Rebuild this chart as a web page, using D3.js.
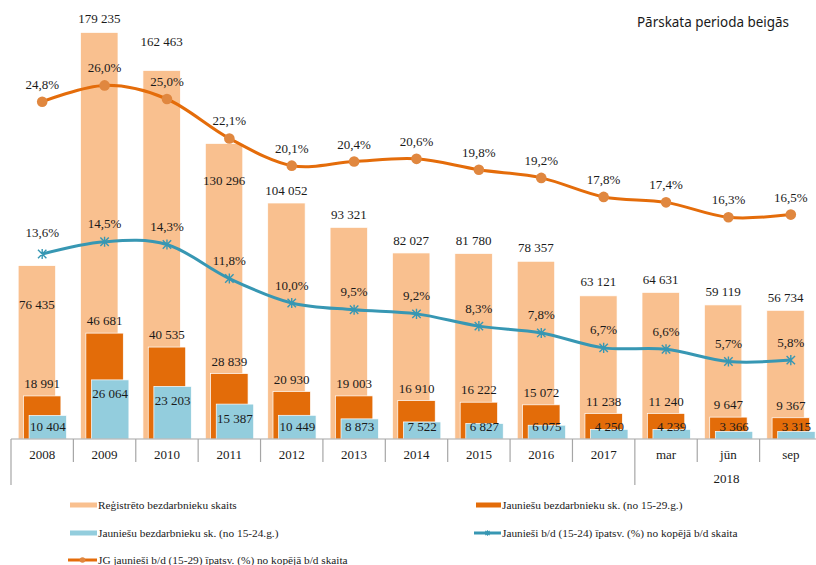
<!DOCTYPE html>
<html>
<head>
<meta charset="UTF-8">
<title>Bezdarbnieki</title>
<script src="https://d3js.org/d3.v7.min.js"></script>
<style>
  body { margin: 0; background: #fff; }
  svg text { font-family: "Liberation Serif", "Times New Roman", serif; fill: #1a1a1a; }
</style>
</head>
<body>
<svg id="viz" width="816" height="565"></svg>
<script>
// data
var categories = ["2008", "2009", "2010", "2011", "2012", "2013", "2014", "2015", "2016", "2017", "mar", "jūn", "sep"];
var registered = [76435, 179235, 162463, 130296, 104052, 93321, 82027, 81780, 78357, 63121, 64631, 59119, 56734];
var youth1529 = [18991, 46681, 40535, 28839, 20930, 19003, 16910, 16222, 15072, 11238, 11240, 9647, 9367];
var youth1524 = [10404, 26064, 23203, 15387, 10449, 8873, 7522, 6827, 6075, 4250, 4239, 3366, 3315];
var share1524 = [13.6, 14.5, 14.3, 11.8, 10.0, 9.5, 9.2, 8.3, 7.8, 6.7, 6.6, 5.7, 5.8];
var share1529 = [24.8, 26.0, 25.0, 22.1, 20.1, 20.4, 20.6, 19.8, 19.2, 17.8, 17.4, 16.3, 16.5];
var groupLabel = "2018"; // spans the last three months

// manual label nudges (px from bar top), like the moved labels in the original
var registeredLabelDy = [39, -14, -29, 37, -13, -13, -13, -13, -14, -14, -13, -13, -13];

var colors = {
  registered: "#F9C08F",
  y1529: "#E36C09",
  y1524: "#93CDDD",
  line1524: "#3797B3",
  line1529: "#E46C0A",
  dot1529: "#E0873F",
  axis: "#A6A6A6"
};

var loc = d3.formatLocale({decimal: ",", thousands: " ", grouping: [3], currency: ["", ""]});
var fmtNum = loc.format(",d");
var fmtPct = function(v) { return loc.format(".1f")(v) + "%"; };

var svg = d3.select("#viz");
var baseY = 439;

var x = d3.scaleBand().domain(categories).range([11, 822]).padding(0);
var step = x.step();
var barW = step * 0.6;
var cx = function(i) { return x(categories[i]) + step / 2; };

var y = d3.scaleLinear().domain([0, 190000]).range([baseY, baseY - 190000 * 0.002268]);
var y2 = d3.scaleLinear().domain([0, 30]).range([baseY, baseY - 30 * 13.6]);

// bars
function drawBars(values, color, offset, cls) {
  svg.append("g").attr("class", cls)
    .selectAll("rect").data(values).enter().append("rect")
    .attr("x", function(d, i) { return cx(i) + offset * step - barW / 2; })
    .attr("y", function(d) { return y(d); })
    .attr("width", barW)
    .attr("height", function(d) { return baseY - y(d); })
    .attr("fill", color)
    .attr("stroke", "#fff")
    .attr("stroke-width", 0.7);
}
drawBars(registered, colors.registered, -0.085, "reg");
drawBars(youth1529, colors.y1529, 0, "y29");
drawBars(youth1524, colors.y1524, 0.09, "y24");

// axis
var axis = svg.append("g").attr("class", "axis");
axis.append("line").attr("x1", x.range()[0]).attr("x2", x.range()[1])
  .attr("y1", baseY).attr("y2", baseY).attr("stroke", colors.axis).attr("stroke-width", 1.2);
var bounds = categories.map(function(c) { return x(c); }).concat([x.range()[1]]);
axis.selectAll("line.tick").data(bounds).enter().append("line")
  .attr("class", "tick")
  .attr("x1", function(d) { return d; }).attr("x2", function(d) { return d; })
  .attr("y1", baseY)
  .attr("y2", function(d, i) { return (i === 0 || i === 10 || i === 13) ? 485 : 462; })
  .attr("stroke", colors.axis).attr("stroke-width", 1.2);
axis.selectAll("text.cat").data(categories).enter().append("text")
  .attr("class", "cat")
  .attr("x", function(d, i) { return cx(i); })
  .attr("y", 454).attr("dy", "0.35em")
  .attr("text-anchor", "middle").attr("font-size", 13)
  .text(function(d) { return d; });
axis.append("text")
  .attr("x", (x("mar") + x.range()[1]) / 2 - 2).attr("y", 478).attr("dy", "0.35em")
  .attr("text-anchor", "middle").attr("font-size", 13).text(groupLabel);

// lines
var asterisk = function(s) {
  return "M" + (-s) + "," + (-s) + "L" + s + "," + s +
         "M" + (-s) + "," + s + "L" + s + "," + (-s) +
         "M0," + (-s * 1.2) + "L0," + (s * 1.2);
};
var line = d3.line()
  .x(function(d, i) { return cx(i); })
  .y(function(d) { return y2(d); })
  .curve(d3.curveCardinal);

svg.append("path").datum(share1524)
  .attr("d", line).attr("fill", "none")
  .attr("stroke", colors.line1524).attr("stroke-width", 3);
svg.append("g").selectAll("path").data(share1524).enter().append("path")
  .attr("transform", function(d, i) { return "translate(" + cx(i) + "," + y2(d) + ")"; })
  .attr("d", asterisk(4.2)).attr("stroke", colors.line1524).attr("stroke-width", 1.4).attr("fill", "none");

svg.append("path").datum(share1529)
  .attr("d", line).attr("fill", "none")
  .attr("stroke", colors.line1529).attr("stroke-width", 3);
svg.append("g").selectAll("circle").data(share1529).enter().append("circle")
  .attr("cx", function(d, i) { return cx(i); })
  .attr("cy", function(d) { return y2(d); })
  .attr("r", 5.3).attr("fill", colors.dot1529);

// value labels
var labels = svg.append("g").attr("font-size", 13).attr("text-anchor", "middle");
labels.selectAll("text.reg").data(registered).enter().append("text")
  .attr("x", function(d, i) { return cx(i) - 0.085 * step; })
  .attr("y", function(d, i) { return y(d) + registeredLabelDy[i]; })
  .attr("dy", "0.35em").text(function(d) { return fmtNum(d); });
labels.selectAll("text.y29").data(youth1529).enter().append("text")
  .attr("x", function(d, i) { return cx(i); })
  .attr("y", function(d) { return y(d) - 12.5; })
  .attr("dy", "0.35em").text(function(d) { return fmtNum(d); });
labels.selectAll("text.y24").data(youth1524).enter().append("text")
  .attr("x", function(d, i) { return cx(i) + 0.09 * step; })
  .attr("y", function(d) { return Math.min(y(d) + 14, 426.5); })
  .attr("dy", "0.35em").text(function(d) { return fmtNum(d); });
labels.selectAll("text.p24").data(share1524).enter().append("text")
  .attr("x", function(d, i) { return cx(i); })
  .attr("y", function(d, i) { return y2(d) - (i === 0 ? 22 : 18); })
  .attr("dy", "0.35em").text(function(d) { return fmtPct(d); });
labels.selectAll("text.p29").data(share1529).enter().append("text")
  .attr("x", function(d, i) { return cx(i); })
  .attr("y", function(d) { return y2(d) - 17.5; })
  .attr("dy", "0.35em").text(function(d) { return fmtPct(d); });

// title
svg.append("text")
  .attr("x", 789).attr("y", 22).attr("dy", "0.35em")
  .attr("text-anchor", "end")
  .style("font-family", "'Noto Sans', sans-serif")
  .attr("font-size", 13.5)
  .attr("textLength", 152).attr("lengthAdjust", "spacingAndGlyphs")
  .text("Pārskata perioda beigās");

// legend
var legendItems = [
  {label: "Reģistrēto bezdarbnieku skaits", type: "rect", color: colors.registered, x: 70, y: 505, w: 27},
  {label: "Jauniešu bezdarbnieku sk. (no 15-29.g.)", type: "rect", color: colors.y1529, x: 476, y: 505, w: 25},
  {label: "Jauniešu bezdarbnieku sk. (no 15-24.g.)", type: "rect", color: colors.y1524, x: 70, y: 533, w: 27},
  {label: "Jaunieši b/d (15-24) īpatsv. (%) no kopējā b/d skaita", type: "star", color: colors.line1524, x: 474, y: 533, w: 27},
  {label: "JG jaunieši b/d (15-29) īpatsv. (%) no kopējā b/d skaita", type: "dot", color: colors.line1529, x: 68, y: 560, w: 29}
];
var lg = svg.append("g").attr("class", "legend");
legendItems.forEach(function(it) {
  var g = lg.append("g");
  if (it.type === "rect") {
    g.append("rect").attr("x", it.x).attr("y", it.y - 2.5).attr("width", it.w).attr("height", 5).attr("fill", it.color);
  } else {
    g.append("line").attr("x1", it.x).attr("x2", it.x + it.w).attr("y1", it.y).attr("y2", it.y)
      .attr("stroke", it.color).attr("stroke-width", 3);
    if (it.type === "dot") {
      g.append("circle").attr("cx", it.x + it.w / 2).attr("cy", it.y).attr("r", 2.8).attr("fill", colors.dot1529);
    } else {
      g.append("path").attr("transform", "translate(" + (it.x + it.w / 2) + "," + it.y + ")")
        .attr("d", asterisk(2.2)).attr("stroke", it.color).attr("stroke-width", 1.2);
    }
  }
  g.append("text").attr("x", it.x + it.w + 1).attr("y", it.y).attr("dy", "0.35em")
    .attr("font-size", 11.3).text(it.label);
});
</script>
</body>
</html>
